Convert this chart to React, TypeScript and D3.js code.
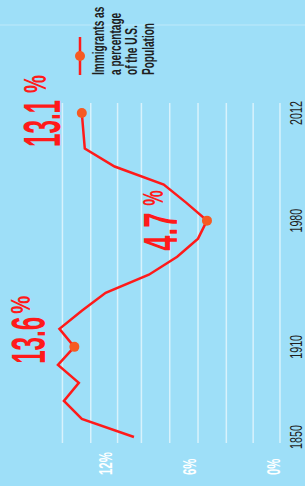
import React from 'react'
import * as d3 from 'd3'

// immigrants as a share of the U.S. population
const years = [1850, 1860, 1870, 1880, 1890, 1900, 1910, 1920, 1930, 1940, 1950, 1960, 1970, 1980, 1990, 2000, 2010, 2012]
const immigrantPct = [9.6, 13.1, 14.3, 13.3, 14.7, 13.6, 14.6, 13.1, 11.5, 8.6, 6.7, 5.3, 4.7, 6.1, 7.6, 10.9, 12.9, 13.1]

const dotYears = [1900, 1970, 2012]
const calloutYears = [2012, 1900, 1970]
const calloutLabels = ['13.1', '13.6', '4.7']

const yearTicks = [1850, 1900, 1970, 2012]
const yearTickLabels = ['1850', '1910', '1980', '2012']

const pctTicks = [0, 6, 12]
const pctTickLabels = ['0%', '6%', '12%']

// faint guide lines, in percent
const gridPcts = [-0.2, 1.6, 3.4, 5.3, 7.2, 9.1, 10.7, 12.5, 14.4]

const legendLines = ['Immigrants as', 'a percentage', 'of the U.S.', 'Population']

const W = 305
const H = 486
const BG = '#9edff8'
const RED = '#ff1a1a'
const DOT = '#f65a22'
const FONT = '"Liberation Sans", Arial, sans-serif'

// chart is turned on its side: years run bottom -> top, percent runs right -> left
const yScale = d3.scaleLinear().domain([1850, 2010, 2012]).range([437, 148.5, 113])
const xScale = d3.scaleLinear().domain([0, 15]).range([277, 53.5])
const labelScale = d3.scaleLinear().domain([0, 12]).range([280, 112])

const rot = (x: number, y: number, sx: number) =>
  `translate(${x},${y}) rotate(-90) scale(${sx},1)`

// where each callout sits relative to its point
const calloutStyle = [
  { dx: -22, dy: 34, size: 52, sx: 0.465, pdx: -36, pdy: -20, psize: 32, psx: 0.63 },
  { dx: -29, dy: 17, size: 47.5, sx: 0.51, pdx: -44, pdy: -33, psize: 27, psx: 0.75 },
  { dx: -30, dy: 30, size: 47.5, sx: 0.575, pdx: -44, pdy: -15, psize: 30, psx: 0.58 },
]

export default function App() {
  const points: [number, number][] = years.map((yr, i) => [xScale(immigrantPct[i]), yScale(yr)])
  const line = d3.line<[number, number]>()
  const valueAt = (yr: number) => immigrantPct[years.indexOf(yr)]

  const gridTop = 103
  const gridBottom = 443

  return (
    <svg width={W} height={H} style={{ position: 'absolute', left: 0, top: 0 }}>
      <rect width={W} height={H} fill={BG} />
      <line x1={0} x2={W} y1={25} y2={25} stroke="#fff" strokeOpacity={0.35} strokeWidth={1} />

      {gridPcts.map((p, i) => (
        <line key={i} x1={xScale(p)} x2={xScale(p)} y1={gridTop} y2={gridBottom}
          stroke="#fff" strokeOpacity={0.6} strokeWidth={1.5} />
      ))}

      {pctTicks.map((p, i) => (
        <text key={i} transform={rot(labelScale(p), 475, 0.6)} fill="#fff"
          fontFamily={FONT} fontWeight="bold" fontSize={19}>{pctTickLabels[i]}</text>
      ))}

      {yearTicks.map((yr, i) => (
        <text key={i} transform={rot(302, yScale(yr), 0.65)} textAnchor="middle" fill="#1e1e1e"
          fontFamily={FONT} fontSize={16.5}>{yearTickLabels[i]}</text>
      ))}

      <path d={line(points) || ''} fill="none" stroke={RED} strokeWidth={2.5} strokeLinejoin="miter" />

      {dotYears.map(yr => (
        <circle key={yr} cx={xScale(valueAt(yr))} cy={yScale(yr)} r={5} fill={DOT} />
      ))}

      {calloutYears.map((yr, i) => {
        const px = xScale(valueAt(yr))
        const py = yScale(yr)
        const s = calloutStyle[i]
        return (
          <g key={yr} fill={RED} fontFamily={FONT} fontWeight="bold">
            <text transform={rot(px + s.dx, py + s.dy, s.sx)} fontSize={s.size}>{calloutLabels[i]}</text>
            <text transform={rot(px + s.pdx, py + s.pdy, s.psx)} fontSize={s.psize}>%</text>
          </g>
        )
      })}

      {/* legend */}
      <line x1={80} x2={80} y1={37} y2={75} stroke={RED} strokeWidth={2.5} />
      <circle cx={80} cy={56} r={5} fill={DOT} />
      {legendLines.map((t, i) => (
        <text key={i} transform={rot(104 + i * 16.5, 75, 0.63)} fill="#1e1e1e"
          fontFamily={FONT} fontWeight="bold" fontSize={16}>{t}</text>
      ))}
    </svg>
  )
}
